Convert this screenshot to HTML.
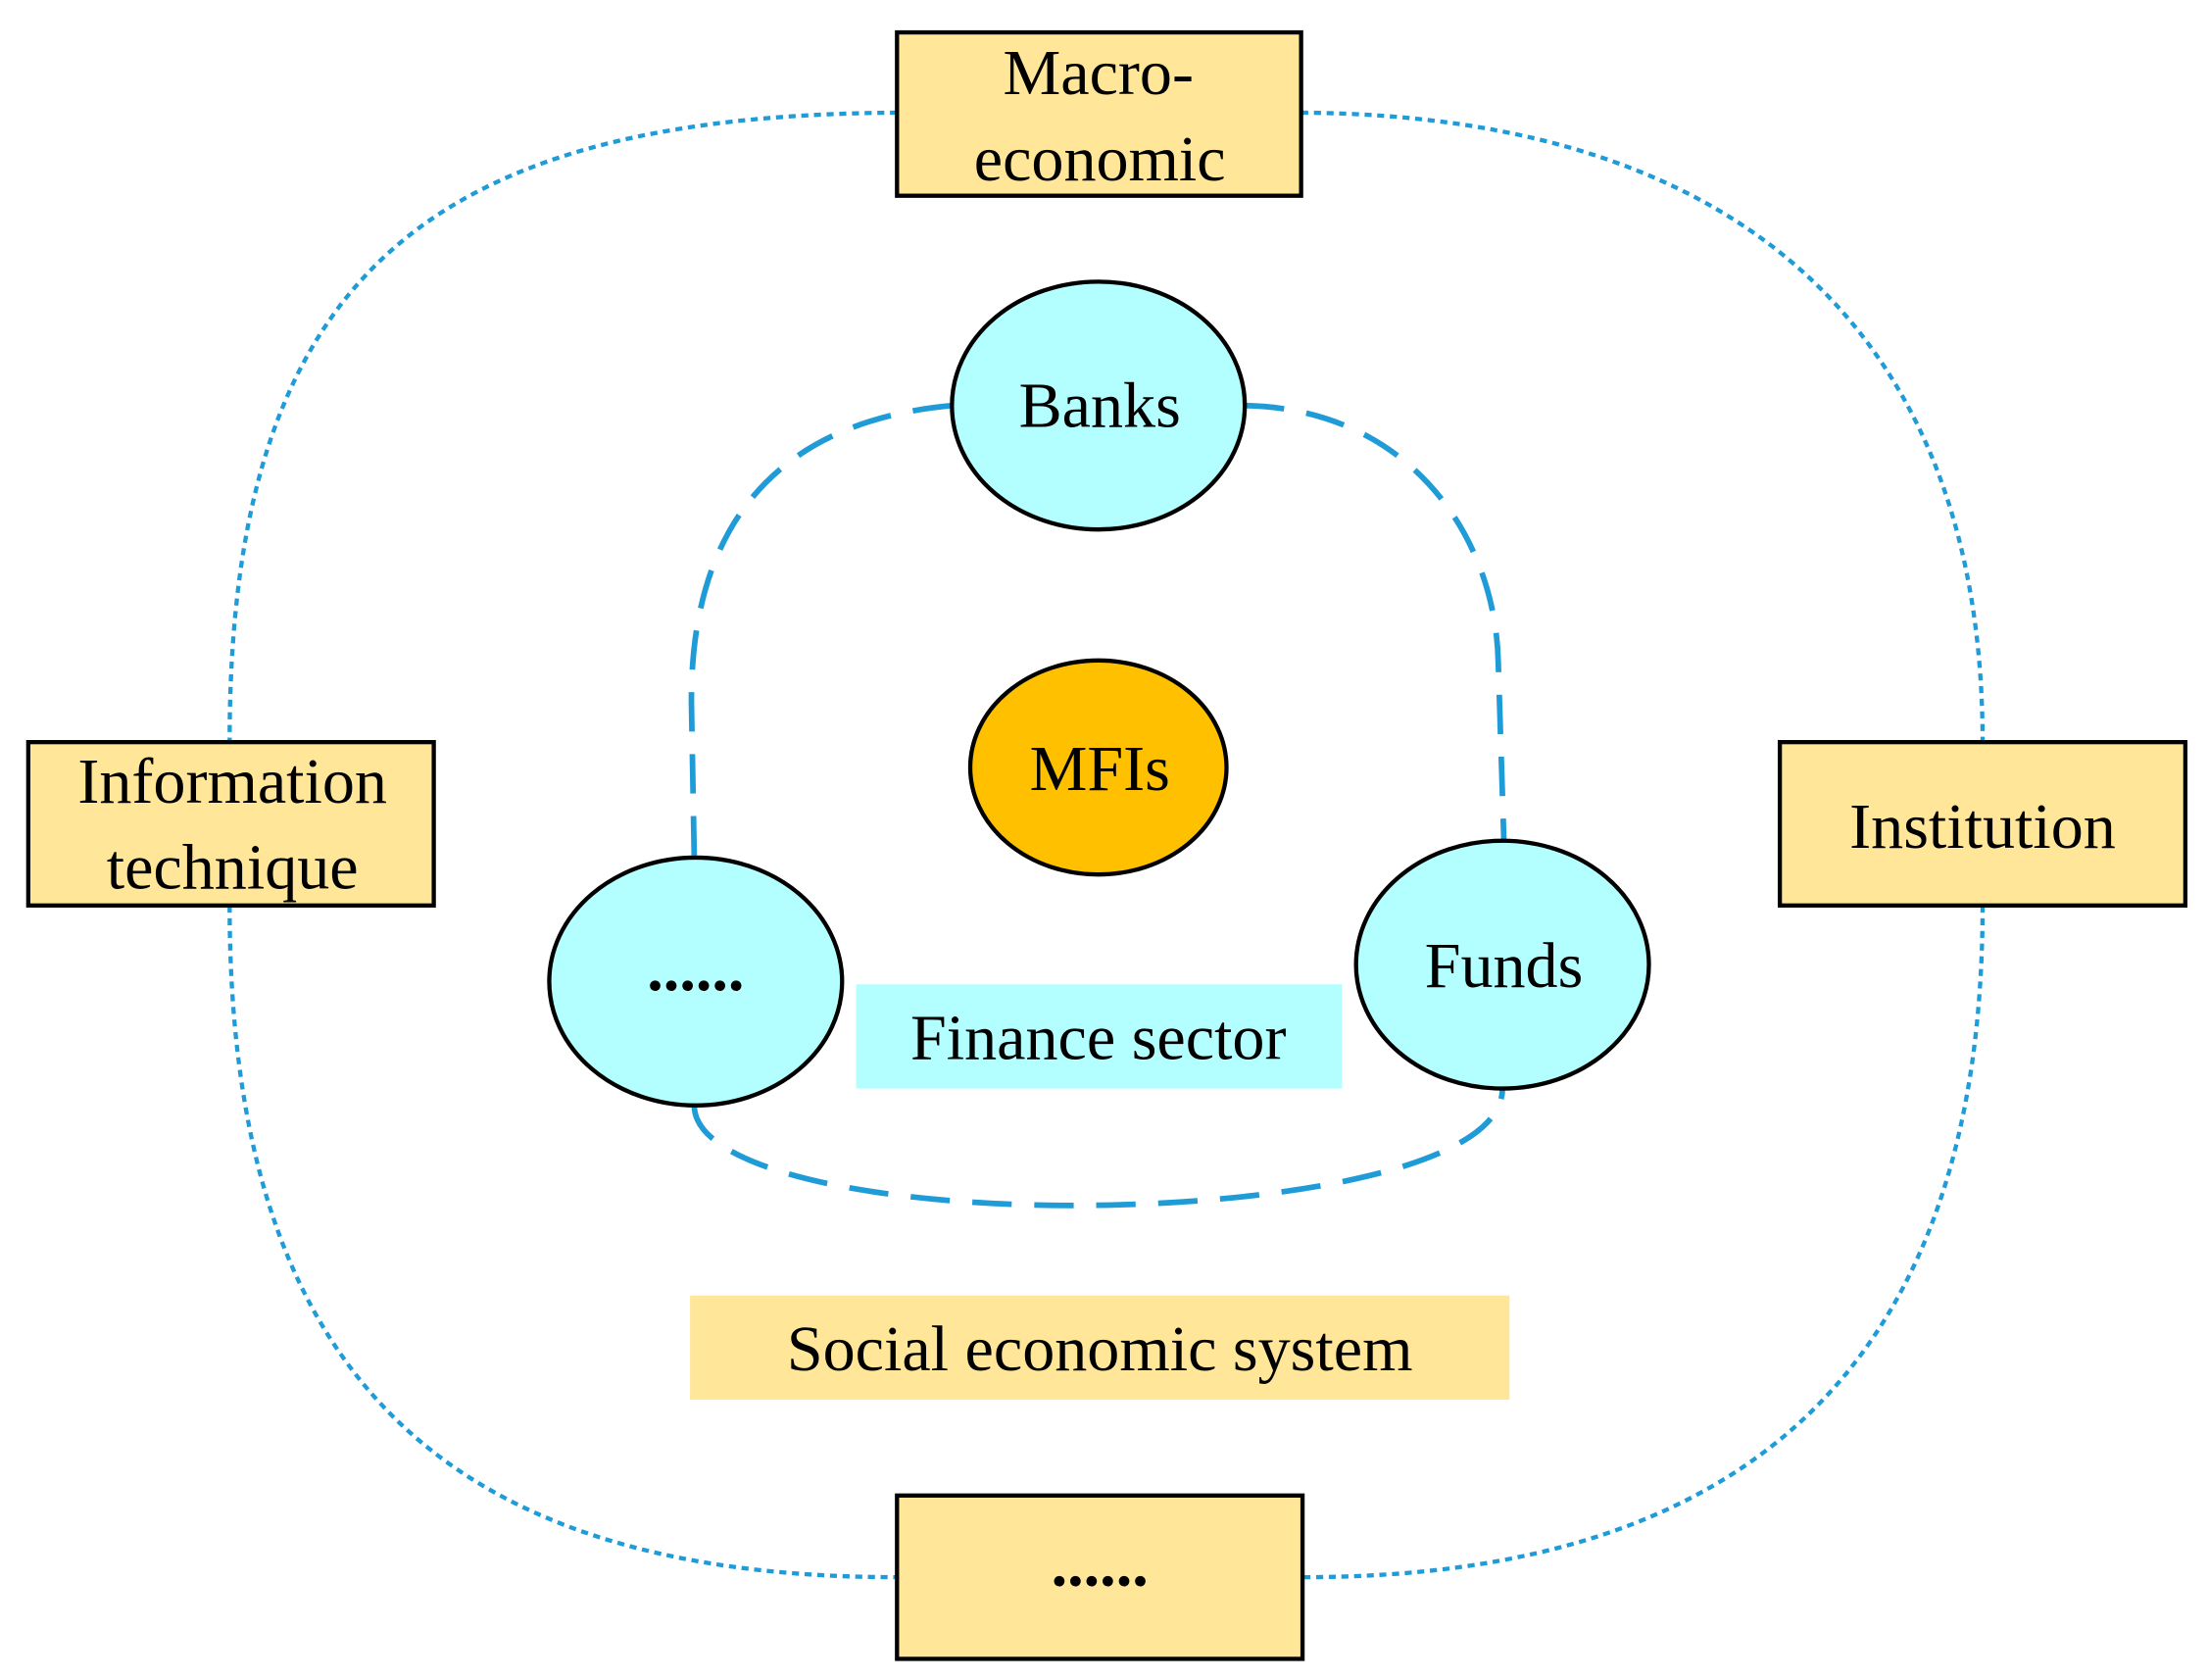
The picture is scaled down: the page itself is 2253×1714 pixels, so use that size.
<!DOCTYPE html>
<html><head><meta charset="utf-8"><style>
html,body{margin:0;padding:0;background:#fff;}
svg{display:block;}
text{font-family:"Liberation Serif",serif;fill:#000;}
</style></head><body>
<svg width="2253" height="1714" viewBox="0 0 1568 1193" xmlns="http://www.w3.org/2000/svg">
<rect width="1568" height="1193" fill="#fff"/>
<!-- outer dotted -->
<g fill="none" stroke="#1F9BD7" stroke-width="3" stroke-dasharray="5 4">
<path d="M637,80 C300,82 163,200 163,527"/>
<path d="M924,80 C1250,82 1408,250 1408,527"/>
<path d="M163,643 C163,960 300,1120 637,1120"/>
<path d="M1408,643 C1408,960 1250,1120 925,1120"/>
</g>
<!-- inner dashed -->
<g fill="none" stroke="#1F9BD7" stroke-width="4" stroke-dasharray="28 16">
<path d="M676,288 C545,300 490,380 491,500 L493,610"/>
<path d="M884,288 C1000,290 1062,380 1064,470 L1068,597"/>
<path d="M493,785 C493,830 620,856 762,856 C905,856 1067,830 1067,773"/>
</g>
<!-- labels bg -->
<rect x="608" y="699" width="345" height="74" fill="#B3FFFF"/>
<text x="780" y="752" font-size="46" text-anchor="middle">Finance sector</text>
<rect x="490" y="920" width="582" height="74" fill="#FFE699"/>
<text x="781" y="973" font-size="46" text-anchor="middle">Social economic system</text>
<!-- boxes -->
<g fill="#FFE699" stroke="#000" stroke-width="3">
<rect x="637" y="23" width="287" height="116"/>
<rect x="20" y="527" width="288" height="116"/>
<rect x="1264" y="527" width="288" height="116"/>
<rect x="637" y="1062" width="288" height="116"/>
</g>
<text x="780" y="67" font-size="46" text-anchor="middle">Macro-</text>
<text x="781" y="128" font-size="46" text-anchor="middle">economic</text>
<text x="165" y="570" font-size="46" text-anchor="middle">Information</text>
<text x="165" y="631" font-size="46" text-anchor="middle">technique</text>
<text x="1408" y="602" font-size="46" text-anchor="middle">Institution</text>
<text x="781" y="1126" font-size="46" font-weight="bold" text-anchor="middle">......</text>
<!-- ellipses -->
<g stroke="#000" stroke-width="3">
<ellipse cx="780" cy="288" rx="104" ry="88" fill="#B3FFFF"/>
<ellipse cx="780" cy="545" rx="91" ry="76" fill="#FFC000"/>
<ellipse cx="494" cy="697" rx="104" ry="88" fill="#B3FFFF"/>
<ellipse cx="1067" cy="685" rx="104" ry="88" fill="#B3FFFF"/>
</g>
<text x="781" y="303" font-size="46" text-anchor="middle">Banks</text>
<text x="781" y="561" font-size="46" text-anchor="middle">MFIs</text>
<text x="494" y="703" font-size="46" font-weight="bold" text-anchor="middle">......</text>
<text x="1068" y="701" font-size="46" text-anchor="middle">Funds</text>
</svg>
</body></html>
